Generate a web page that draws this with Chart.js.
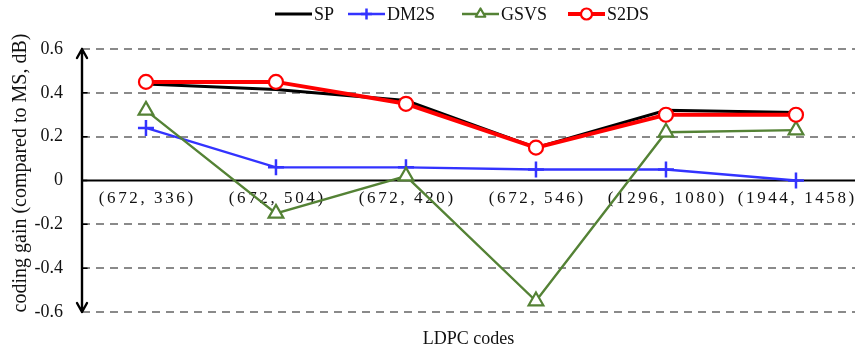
<!DOCTYPE html>
<html>
<head>
<meta charset="utf-8">
<script src="https://cdn.jsdelivr.net/npm/chart.js@4"></script>
<style>
  html, body { margin: 0; padding: 0; background: #fff; }
  canvas { display: block; }
</style>
</head>
<body>
<canvas id="chart" width="855" height="351"></canvas>
<script>
// LDPC codes (n, k) and coding gain relative to MS decoding, in dB
const codes = ['(672, 336)', '(672, 504)', '(672, 420)', '(672, 546)', '(1296, 1080)', '(1944, 1458)'];
const spGain   = [0.44, 0.415, 0.365, 0.15, 0.32, 0.31];
const dm2sGain = [0.24, 0.06, 0.06, 0.05, 0.05, 0.00];
const gsvsGain = [0.32, -0.15, 0.02, -0.55, 0.22, 0.23];
const s2dsGain = [0.45, 0.45, 0.35, 0.15, 0.30, 0.30];
const yTicks   = [-0.6, -0.4, -0.2, 0, 0.2, 0.4, 0.6];
const yTitle   = 'coding gain (compared to MS, dB)';

const SERIF = "'Liberation Serif', 'Times New Roman', serif";

const toPoints = arr => arr.map((v, i) => ({ x: i, y: v }));

// Axis with arrowheads, zero line, code labels along the zero line, y title and the legend
const decorations = {
  id: 'decorations',
  beforeDatasetsDraw(chart) {
    const { ctx, chartArea: a, scales: { x, y } } = chart;
    const y0 = y.getPixelForValue(0);
    ctx.save();
    // zero line
    ctx.strokeStyle = '#000';
    ctx.lineWidth = 2;
    ctx.beginPath();
    ctx.moveTo(a.left, y0);
    ctx.lineTo(a.right, y0);
    ctx.stroke();
    // code labels under the zero line
    ctx.font = '17px ' + SERIF;
    ctx.letterSpacing = '2.6px';
    ctx.fillStyle = '#111';
    ctx.textAlign = 'center';
    ctx.textBaseline = 'middle';
    codes.forEach((c, i) => {
      ctx.fillText(c, x.getPixelForValue(i) + 1.3, y0 + 18);
    });
    ctx.restore();
  },
  afterDraw(chart) {
    const { ctx, chartArea: a, scales: { y } } = chart;
    const ax = a.left;
    const top = y.getPixelForValue(0.6);
    const bot = y.getPixelForValue(-0.6);
    ctx.save();
    ctx.strokeStyle = '#000';
    ctx.lineWidth = 2.4;
    ctx.lineCap = 'round';
    ctx.lineJoin = 'round';
    ctx.beginPath();
    ctx.moveTo(ax, top);
    ctx.lineTo(ax, bot);
    // arrowheads
    ctx.moveTo(ax - 5, top + 9); ctx.lineTo(ax, top); ctx.lineTo(ax + 5, top + 9);
    ctx.moveTo(ax - 5, bot - 9); ctx.lineTo(ax, bot); ctx.lineTo(ax + 5, bot - 9);
    ctx.stroke();
    // small tick marks
    ctx.lineWidth = 1.5;
    ctx.beginPath();
    yTicks.forEach(v => {
      if (v === 0.6 || v === -0.6) return;
      const py = y.getPixelForValue(v);
      ctx.moveTo(ax, py);
      ctx.lineTo(ax + 5, py);
    });
    ctx.stroke();

    // y axis title
    ctx.save();
    ctx.translate(21, 173);
    ctx.rotate(-Math.PI / 2);
    ctx.font = '20px ' + SERIF;
    ctx.fillStyle = '#111';
    ctx.textAlign = 'center';
    ctx.textBaseline = 'middle';
    ctx.fillText(yTitle, 0, 0);
    ctx.restore();

    // legend
    const starts = [275, 348, 462, 568];
    const ly = 14;
    ctx.font = '18px ' + SERIF;
    ctx.textBaseline = 'middle';
    ctx.textAlign = 'left';
    chart.data.datasets.forEach((ds, i) => {
      const x0 = starts[i];
      const len = 37;
      ctx.strokeStyle = ds.borderColor;
      ctx.lineWidth = ds.borderWidth;
      ctx.lineCap = 'butt';
      ctx.beginPath();
      ctx.moveTo(x0, ly);
      ctx.lineTo(x0 + len, ly);
      ctx.stroke();
      if (ds.pointRadius > 0) {
        ctx.fillStyle = ds.pointBackgroundColor;
        ctx.strokeStyle = ds.borderColor;
        ctx.lineWidth = ds.pointBorderWidth;
        Chart.helpers.drawPoint(ctx, {
          pointStyle: ds.pointStyle,
          radius: ds.legendRadius,
          rotation: 0,
          borderWidth: ds.pointBorderWidth
        }, x0 + len / 2, ly);
      }
      ctx.fillStyle = '#111';
      ctx.fillText(ds.label, x0 + len + 2, ly + 1);
    });
    ctx.restore();
  }
};

new Chart(document.getElementById('chart'), {
  type: 'line',
  data: {
    datasets: [
      {
        label: 'SP', data: toPoints(spGain),
        borderColor: '#000000', borderWidth: 3,
        pointRadius: 0, order: 3
      },
      {
        label: 'DM2S', data: toPoints(dm2sGain),
        borderColor: '#3333ff', borderWidth: 2.4,
        pointStyle: 'cross', pointRadius: 8, legendRadius: 5.5,
        pointBorderWidth: 2.5, pointBackgroundColor: '#3333ff', order: 2
      },
      {
        label: 'GSVS', data: toPoints(gsvsGain),
        borderColor: '#548235', borderWidth: 2.4,
        pointStyle: 'triangle', pointRadius: 8.5, legendRadius: 5.5,
        pointBorderWidth: 2.2, pointBackgroundColor: '#ffffff', order: 1
      },
      {
        label: 'S2DS', data: toPoints(s2dsGain),
        borderColor: '#ff0000', borderWidth: 4,
        pointStyle: 'circle', pointRadius: 7, legendRadius: 5.5,
        pointBorderWidth: 2.2, pointBackgroundColor: '#ffffff', order: 0
      }
    ]
  },
  options: {
    responsive: false,
    animation: false,
    events: [],
    layout: { autoPadding: false, padding: { top: 49, right: 0, bottom: 0, left: 0 } },
    plugins: {
      legend: { display: false },
      tooltip: { enabled: false }
    },
    elements: {
      line: { tension: 0 },
      point: { hoverRadius: 0 }
    },
    scales: {
      x: {
        type: 'linear',
        min: -0.492,
        max: 5.454,
        ticks: { display: false },
        grid: { display: false },
        border: { display: false },
        title: {
          display: true,
          text: 'LDPC codes',
          color: '#111',
          font: { family: SERIF, size: 18 },
          padding: { top: 0, bottom: 1 }
        },
        afterFit(scale) { scale.height = 39; }
      },
      y: {
        min: -0.6,
        max: 0.6,
        afterBuildTicks(scale) { scale.ticks = yTicks.map(v => ({ value: v })); },
        ticks: {
          padding: 19,
          color: '#111',
          font: { family: SERIF, size: 18 },
          callback: v => (Math.abs(v) < 1e-9 ? '0' : v.toFixed(1))
        },
        grid: {
          drawTicks: false,
          lineWidth: 2,
          color: ctx => (ctx.tick && Math.abs(ctx.tick.value) < 1e-9 ? 'rgba(0,0,0,0)' : '#8a8a8a')
        },
        border: { display: false, dash: [8, 6] },
        title: { display: false },
        afterFit(scale) { scale.width = 82; }
      }
    }
  },
  plugins: [decorations]
});
</script>
</body>
</html>
